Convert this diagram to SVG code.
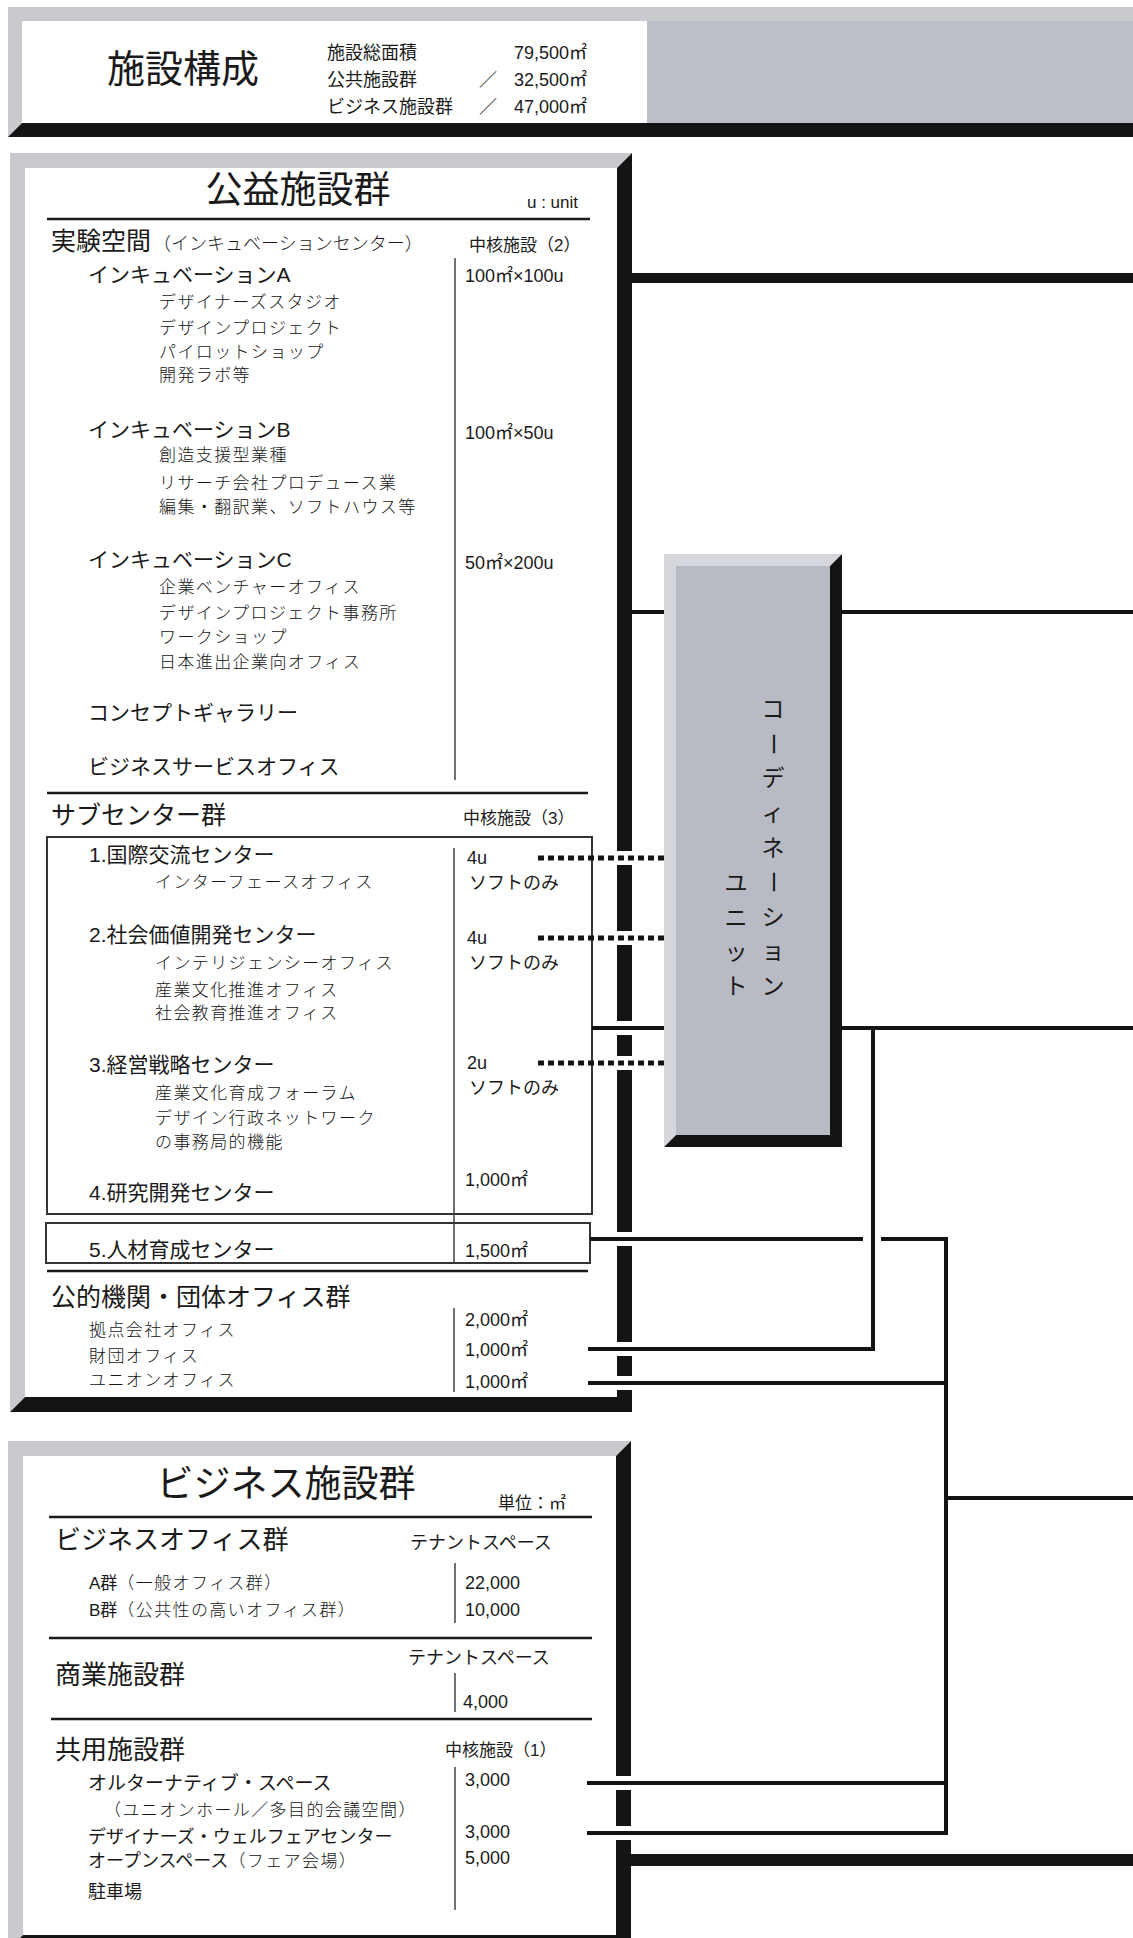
<svg xmlns="http://www.w3.org/2000/svg" width="1133" height="1938" viewBox="0 0 1133 1938">
<defs>
<style>
text { fill:#1a1a1a; }
.j { font-family:"Noto Sans CJK JP","Noto Sans CJK SC",sans-serif; }
.l { font-family:"Liberation Sans","Noto Sans CJK JP",sans-serif; }
.t1 { font-size:37px; }
.t2 { font-size:25px; }
.t3 { font-size:21px; }
.sub { font-family:"Noto Sans CJK JP",sans-serif; font-size:17px; font-weight:300; letter-spacing:1.4px; fill:#151515; }
.v { font-size:18px; }
.n { font-size:17px; }
.fg { fill:#c9cace; }
.fb { fill:#141414; }
.rule { stroke:#1a1a1a; stroke-width:2.5; }
.vr { stroke:#444; stroke-width:1.5; }
.box { fill:none; stroke:#333; stroke-width:2; }
.c { stroke:#141414; stroke-width:4; fill:none; }
.gap { fill:#fff; }
.d { stroke:#141414; stroke-width:5; stroke-dasharray:6 4; fill:none; }
.cu { font-family:"Noto Sans CJK JP",sans-serif; font-size:23px; }
</style>
</defs>
<rect width="1133" height="1938" fill="#fff"/>

<g id="header">
  <path class="fg" d="M8,7 H1133 V21 H22 V123 L8,137 Z"/>
  <rect x="22" y="21" width="625" height="102" fill="#fff"/>
  <rect x="647" y="21" width="486" height="102" fill="#bcbfc7"/>
  <path class="fb" d="M8,137 L22,123 H1133 V137 Z"/>
  <text class="j" x="107" y="82" font-size="38">施設構成</text>
  <text class="j" x="327" y="59" font-size="18">施設総面積</text>
  <text class="l" x="587" y="59" font-size="18" text-anchor="end">79,500㎡</text>
  <text class="j" x="327" y="86" font-size="18">公共施設群</text>
  <text class="j" x="488" y="86" font-size="18" text-anchor="middle">／</text>
  <text class="l" x="587" y="86" font-size="18" text-anchor="end">32,500㎡</text>
  <text class="j" x="327" y="113" font-size="18">ビジネス施設群</text>
  <text class="j" x="488" y="113" font-size="18" text-anchor="middle">／</text>
  <text class="l" x="587" y="113" font-size="18" text-anchor="end">47,000㎡</text>
</g>

<g id="public-facilities">
  <path class="fg" d="M10,153 H632 L617,168 H25 V1397 L10,1412 Z"/>
  <path class="fb" d="M632,153 V1412 H10 L25,1397 H617 V168 Z"/>
  <rect x="25" y="168" width="592" height="1229" fill="#fff"/>
  <text class="j t1" x="298" y="203" text-anchor="middle">公益施設群</text>
  <text class="l n" x="527" y="208">u : unit</text>
  <line class="rule" x1="47" y1="219" x2="590" y2="219"/>
  <text class="j t2" x="51" y="250">実験空間<tspan font-size="18" font-weight="300" dx="2">（インキュベーションセンター）</tspan></text>
  <text class="l n" x="469" y="251">中核施設（2）</text>
  <line class="vr" x1="455" y1="258" x2="455" y2="780"/>
  <text class="l t3" x="88" y="282">インキュベーションA</text>
  <text class="l v" x="465" y="282">100㎡×100u</text>
  <text class="sub" x="159" y="308">デザイナーズスタジオ</text>
  <text class="sub" x="159" y="334">デザインプロジェクト</text>
  <text class="sub" x="159" y="358">パイロットショップ</text>
  <text class="sub" x="159" y="381">開発ラボ等</text>
  <text class="l t3" x="88" y="437">インキュベーションB</text>
  <text class="l v" x="465" y="439">100㎡×50u</text>
  <text class="sub" x="159" y="461">創造支援型業種</text>
  <text class="sub" x="159" y="489">リサーチ会社プロデュース業</text>
  <text class="sub" x="159" y="513">編集・翻訳業、ソフトハウス等</text>
  <text class="l t3" x="88" y="567">インキュベーションC</text>
  <text class="l v" x="465" y="569">50㎡×200u</text>
  <text class="sub" x="159" y="593">企業ベンチャーオフィス</text>
  <text class="sub" x="159" y="619">デザインプロジェクト事務所</text>
  <text class="sub" x="159" y="643">ワークショップ</text>
  <text class="sub" x="159" y="668">日本進出企業向オフィス</text>
  <text class="j t3" x="88" y="720">コンセプトギャラリー</text>
  <text class="j t3" x="88" y="774">ビジネスサービスオフィス</text>
  <line class="rule" x1="47" y1="793" x2="588" y2="793"/>
  <text class="j t2" x="51" y="824">サブセンター群</text>
  <text class="l n" x="463" y="824">中核施設（3）</text>
  <rect class="box" x="47" y="837" width="545" height="377"/>
  <line class="vr" x1="454" y1="848" x2="454" y2="1262"/>
  <text class="l t3" x="89" y="862">1.国際交流センター</text>
  <text class="l v" x="467" y="864">4u</text>
  <text class="sub" x="155" y="888">インターフェースオフィス</text>
  <text class="j v" x="469" y="889">ソフトのみ</text>
  <text class="l t3" x="89" y="942">2.社会価値開発センター</text>
  <text class="l v" x="467" y="944">4u</text>
  <text class="sub" x="155" y="969">インテリジェンシーオフィス</text>
  <text class="j v" x="469" y="969">ソフトのみ</text>
  <text class="sub" x="155" y="996">産業文化推進オフィス</text>
  <text class="sub" x="155" y="1019">社会教育推進オフィス</text>
  <text class="l t3" x="89" y="1072">3.経営戦略センター</text>
  <text class="l v" x="467" y="1069">2u</text>
  <text class="j v" x="469" y="1094">ソフトのみ</text>
  <text class="sub" x="155" y="1099">産業文化育成フォーラム</text>
  <text class="sub" x="155" y="1124">デザイン行政ネットワーク</text>
  <text class="sub" x="155" y="1148">の事務局的機能</text>
  <text class="l v" x="465" y="1186">1,000㎡</text>
  <text class="l t3" x="89" y="1200">4.研究開発センター</text>
  <rect class="box" x="46" y="1223" width="544" height="40"/>
  <text class="l t3" x="89" y="1257">5.人材育成センター</text>
  <text class="l v" x="465" y="1257">1,500㎡</text>
  <line class="rule" x1="47" y1="1271" x2="588" y2="1271" stroke-width="3"/>
  <text class="j t2" x="51" y="1306">公的機関・団体オフィス群</text>
  <line class="vr" x1="454" y1="1308" x2="454" y2="1392"/>
  <text class="l v" x="465" y="1326">2,000㎡</text>
  <text class="sub" x="89" y="1336">拠点会社オフィス</text>
  <text class="l v" x="465" y="1356">1,000㎡</text>
  <text class="sub" x="89" y="1362">財団オフィス</text>
  <text class="l v" x="465" y="1388">1,000㎡</text>
  <text class="sub" x="89" y="1386">ユニオンオフィス</text>
</g>

<g id="business-facilities">
  <path class="fg" d="M8,1441 H631 L616,1456 H23 V1935 L8,1950 Z"/>
  <path class="fb" d="M631,1441 V1950 H8 L23,1935 H616 V1456 Z"/>
  <rect x="23" y="1456" width="593" height="479" fill="#fff"/>
  <text class="j t1" x="286" y="1497" text-anchor="middle">ビジネス施設群</text>
  <text class="j n" x="498" y="1509">単位：㎡</text>
  <line class="rule" x1="49" y1="1517" x2="592" y2="1517"/>
  <text class="j" x="55" y="1549" font-size="26">ビジネスオフィス群</text>
  <text class="j" x="410" y="1549" font-size="18">テナントスペース</text>
  <line class="vr" x1="455" y1="1563" x2="455" y2="1623"/>
  <text class="l n" x="89" y="1589">A群<tspan class="sub">（一般オフィス群）</tspan></text>
  <text class="l v" x="465" y="1589">22,000</text>
  <text class="l n" x="89" y="1616">B群<tspan class="sub">（公共性の高いオフィス群）</tspan></text>
  <text class="l v" x="465" y="1616">10,000</text>
  <line class="rule" x1="49" y1="1638" x2="592" y2="1638"/>
  <text class="j" x="408" y="1664" font-size="18">テナントスペース</text>
  <text class="j" x="55" y="1684" font-size="26">商業施設群</text>
  <line class="vr" x1="455" y1="1673" x2="455" y2="1712"/>
  <text class="l v" x="463" y="1708">4,000</text>
  <line class="rule" x1="51" y1="1719" x2="592" y2="1719"/>
  <text class="j" x="55" y="1759" font-size="26">共用施設群</text>
  <text class="l n" x="445" y="1756">中核施設（1）</text>
  <line class="vr" x1="455" y1="1767" x2="455" y2="1910"/>
  <text class="j" x="88" y="1790" font-size="19">オルターナティブ・スペース</text>
  <text class="l v" x="465" y="1786">3,000</text>
  <text class="sub" x="104" y="1816" font-size="16.5">（ユニオンホール／多目的会議空間）</text>
  <text class="j" x="88" y="1843" font-size="18">デザイナーズ・ウェルフェアセンター</text>
  <text class="l v" x="465" y="1838">3,000</text>
  <text class="j" x="88" y="1867" font-size="18">オープンスペース<tspan class="sub">（フェア会場）</tspan></text>
  <text class="l v" x="465" y="1864">5,000</text>
  <text class="j" x="88" y="1898" font-size="18">駐車場</text>
</g>

<g id="coordination-unit">
  <path d="M664,554 H842 L830,566 H676 V1135 L664,1147 Z" fill="#d6d7dc"/>
  <path class="fb" d="M842,554 V1147 H664 L676,1135 H830 V566 Z"/>
  <rect x="676" y="566" width="154" height="569" fill="#b9bbc4"/>
  <text class="cu" x="773" y="717" text-anchor="middle">コ</text>
  <text class="cu" x="773" y="752" text-anchor="middle" transform="rotate(90 773 744)">ー</text>
  <text class="cu" x="773" y="786" text-anchor="middle">デ</text>
  <text class="cu" x="773" y="821" text-anchor="middle">ィ</text>
  <text class="cu" x="773" y="856" text-anchor="middle">ネ</text>
  <text class="cu" x="773" y="890" text-anchor="middle" transform="rotate(90 773 882)">ー</text>
  <text class="cu" x="773" y="925" text-anchor="middle">シ</text>
  <text class="cu" x="773" y="959" text-anchor="middle">ョ</text>
  <text class="cu" x="773" y="994" text-anchor="middle">ン</text>
  <text class="cu" x="736" y="891" text-anchor="middle">ユ</text>
  <text class="cu" x="736" y="926" text-anchor="middle">ニ</text>
  <text class="cu" x="736" y="960" text-anchor="middle">ッ</text>
  <text class="cu" x="736" y="994" text-anchor="middle">ト</text>
</g>

<g id="connectors">
  <rect class="gap" x="615" y="851" width="19" height="14"/>
  <rect class="gap" x="615" y="931" width="19" height="14"/>
  <rect class="gap" x="615" y="1056" width="19" height="14"/>
  <rect class="gap" x="615" y="1021" width="19" height="14"/>
  <rect class="gap" x="615" y="1232" width="19" height="14"/>
  <rect class="gap" x="615" y="1342" width="19" height="14"/>
  <rect class="gap" x="615" y="1376" width="19" height="14"/>
  <rect class="gap" x="614" y="1776" width="19" height="14"/>
  <rect class="gap" x="614" y="1826" width="19" height="14"/>
  <line x1="632" y1="278" x2="1133" y2="278" stroke="#141414" stroke-width="10"/>
  <line class="c" x1="632" y1="612" x2="664" y2="612"/>
  <line class="c" x1="842" y1="612" x2="1133" y2="612"/>
  <line class="d" x1="538" y1="858" x2="664" y2="858"/>
  <line class="d" x1="538" y1="938" x2="664" y2="938"/>
  <line class="d" x1="538" y1="1063" x2="664" y2="1063"/>
  <line class="c" x1="592" y1="1028" x2="664" y2="1028"/>
  <line class="c" x1="842" y1="1028" x2="1133" y2="1028"/>
  <path class="c" d="M588,1349 H873 V1026"/>
  <line class="c" x1="590" y1="1239" x2="863" y2="1239"/>
  <path class="c" d="M881,1239 H946 V1835"/>
  <line class="c" x1="588" y1="1383" x2="946" y2="1383"/>
  <line class="c" x1="946" y1="1498" x2="1133" y2="1498"/>
  <line class="c" x1="587" y1="1783" x2="946" y2="1783"/>
  <line class="c" x1="587" y1="1833" x2="948" y2="1833"/>
  <line x1="631" y1="1860" x2="1133" y2="1860" stroke="#141414" stroke-width="12"/>
</g>
</svg>
